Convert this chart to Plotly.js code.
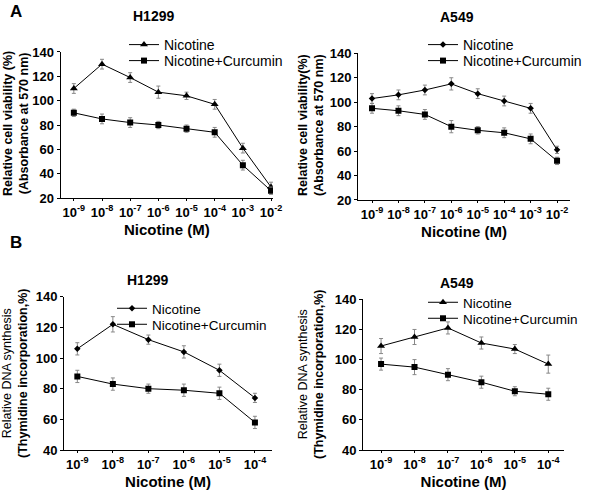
<!DOCTYPE html>
<html>
<head>
<meta charset="utf-8">
<script src="https://cdn.plot.ly/plotly-3.0.1.min.js"></script>
<style>html,body{margin:0;padding:0;background:#fff}#chart{width:600px;height:491px}</style>
</head>
<body>
<div id="chart"></div>
<script>
// ---- data ----
var expA = [-9, -8, -7, -6, -5, -4, -3, -2];
var expB = [-9, -8, -7, -6, -5, -4];
var tickTextA = ['10<sup>-9</sup>','10<sup>-8</sup>','10<sup>-7</sup>','10<sup>-6</sup>','10<sup>-5</sup>','10<sup>-4</sup>','10<sup>-3</sup>','10<sup>-2</sup>'];
var tickTextB = ['10<sup>-9</sup>','10<sup>-8</sup>','10<sup>-7</sup>','10<sup>-6</sup>','10<sup>-5</sup>','10<sup>-4</sup>'];

// A: H1299 cell viability
var aH_nic = [110, 130, 119, 107, 104, 97, 61, 29];
var aH_nicErr = [4, 4, 4, 5, 3, 4, 4, 4];
var aH_cur = [90, 85, 82, 80, 77, 74, 47, 26];
var aH_curErr = [3, 4, 4, 3, 3, 4, 4, 3];
// A: A549 cell viability
var aA_nic = [103, 106, 110, 115, 107, 101, 95, 61];
var aA_nicErr = [4, 4, 4, 5, 4, 4, 4, 3];
var aA_cur = [95, 93, 90, 80, 77, 75, 70, 52];
var aA_curErr = [4, 4, 4, 5, 3, 4, 4, 3];
// B: H1299 DNA synthesis
var bH_nic = [106, 122, 112, 104, 92, 74];
var bH_nicErr = [4, 5, 3, 4, 4, 3];
var bH_cur = [88, 83, 80, 79, 77, 58];
var bH_curErr = [4, 4, 3, 4, 4, 4];
// B: A549 DNA synthesis
var bA_nic = [109, 115, 121, 111, 107, 97];
var bA_nicErr = [5, 5, 4, 4, 3, 6];
var bA_cur = [97, 95, 90, 85, 79, 77];
var bA_curErr = [4, 5, 4, 4, 3, 4];

var nameNic = 'Nicotine';
var nameCur = 'Nicotine+Curcumin';
var yTitleA1 = '<b>Relative cell viability (%)</b><br><b>(Absorbance at 570 nm)</b>';
var yTitleA2 = '<b>Relative cell viability(%)</b><br><b>(Absorbance at 570 nm)</b>';
var yTitleB = 'Relative DNA synthesis<br><b>(Thymidine incorporation,%)</b>';

// ---- helpers ----
var FONT = 'Liberation Sans, Arial, sans-serif';
function tr(x, y, err, name, sym, size, xa, ya, leg) {
  return {
    x: x, y: y, name: name, type: 'scatter', mode: 'lines+markers',
    xaxis: xa, yaxis: ya, legend: leg,
    line: {color: '#000', width: 1},
    marker: {color: '#000', symbol: sym, size: size},
    error_y: {type: 'data', array: err, visible: true, color: '#888', thickness: 1, width: 2}
  };
}
var data = [
  tr(expA, aH_nic, aH_nicErr, nameNic, 'triangle-up', 7, 'x', 'y', 'legend'),
  tr(expA, aH_cur, aH_curErr, nameCur, 'square', 6, 'x', 'y', 'legend2'),
  tr(expA, aA_nic, aA_nicErr, nameNic, 'diamond', 5, 'x2', 'y2', 'legend3'),
  tr(expA, aA_cur, aA_curErr, nameCur, 'square', 6, 'x2', 'y2', 'legend4'),
  tr(expB, bH_nic, bH_nicErr, nameNic, 'diamond', 5, 'x3', 'y3', 'legend5'),
  tr(expB, bH_cur, bH_curErr, nameCur, 'square', 6, 'x3', 'y3', 'legend6'),
  tr(expB, bA_nic, bA_nicErr, nameNic, 'triangle-up', 7, 'x4', 'y4', 'legend7'),
  tr(expB, bA_cur, bA_curErr, nameCur, 'square', 6, 'x4', 'y4', 'legend8')
];

function xax(domain, range, vals, text, anchor) {
  return {
    domain: domain, range: range, anchor: anchor,
    tickvals: vals, ticktext: text,
    showline: true, linecolor: '#000', linewidth: 1,
    ticks: 'outside', ticklen: 2, tickcolor: '#000',
    showgrid: false, zeroline: false,
    tickfont: {family: FONT, size: 13, color: '#000', weight: 'bold'},
    title: {text: 'Nicotine (M)', font: {family: FONT, size: 15, color: '#000', weight: 'bold'}, standoff: 5}
  };
}
function yax(domain, range, dtick, anchor) {
  return {
    domain: domain, range: range, dtick: dtick, anchor: anchor,
    showline: true, linecolor: '#000', linewidth: 1,
    ticks: 'outside', ticklen: 3, tickcolor: '#000',
    showgrid: false, zeroline: false,
    tickfont: {family: FONT, size: 13, color: '#000', weight: 'bold'}
  };
}
// legend box placed by pixel: px = left edge of text, py = text centre
function leg(px, py, fs) {
  return {x: (px - 40) / 600, y: 1 - (py - 15) / 491, xanchor: 'left', yanchor: 'top',
    bgcolor: 'rgba(0,0,0,0)', font: {family: FONT, size: fs, color: '#000'}, itemwidth: 30};
}
function ann(text, x, y, size, angle) {
  return {text: text, x: x / 600, y: 1 - y / 491, xref: 'paper', yref: 'paper', showarrow: false,
    textangle: angle || 0,
    xanchor: 'center', yanchor: 'middle', font: {family: FONT, size: size, color: '#000', weight: 'bold'}};
}
function yTitle(text, x, y) {
  var a = ann(text, x, y, 12.5, -90);
  a.font.weight = 'normal';
  return a;
}

var layout = {
  width: 600, height: 491,
  margin: {l: 0, r: 0, t: 0, b: 0},
  paper_bgcolor: '#fff', plot_bgcolor: '#fff',
  showlegend: true,
  xaxis: xax([0.101, 0.455], [-9.47, -1.93], expA, tickTextA, 'y'),
  yaxis: yax([0.5967, 0.8941], [20, 140], 20, 'x'),
  xaxis2: xax([0.5967, 0.95], [-9.53, -1.51], expA, tickTextA, 'y2'),
  yaxis2: yax([0.5927, 0.8914], [20, 140], 20, 'x2'),
  xaxis3: xax([0.1067, 0.4533], [-9.375, -3.52], expB, tickTextB, 'y3'),
  yaxis3: yax([0.0835, 0.3957], [40, 140], 20, 'x3'),
  xaxis4: xax([0.605, 0.94], [-9.54, -3.53], expB, tickTextB, 'y4'),
  yaxis4: yax([0.0835, 0.3904], [40, 140], 20, 'x4'),
  legend: leg(164, 44, 14),
  legend2: leg(164, 60, 14),
  legend3: leg(463, 44, 14),
  legend4: leg(463, 60, 14),
  legend5: leg(152, 308, 13.5),
  legend6: leg(152, 324, 13.5),
  legend7: leg(463, 302, 13.5),
  legend8: leg(463, 318, 13.5),
  annotations: [
    ann('A', 16, 12, 17),
    ann('B', 16, 242, 17),
    ann('H1299', 153, 16, 14),
    ann('A549', 457, 17, 14),
    ann('H1299', 147, 280, 14),
    ann('A549', 457, 283, 14),
    yTitle(yTitleA1, 16, 124),
    yTitle(yTitleA2, 311, 125),
    yTitle(yTitleB, 15, 374),
    yTitle(yTitleB, 311, 375)
  ]
};

Plotly.newPlot('chart', data, layout, {staticPlot: true});
</script>
</body>
</html>
